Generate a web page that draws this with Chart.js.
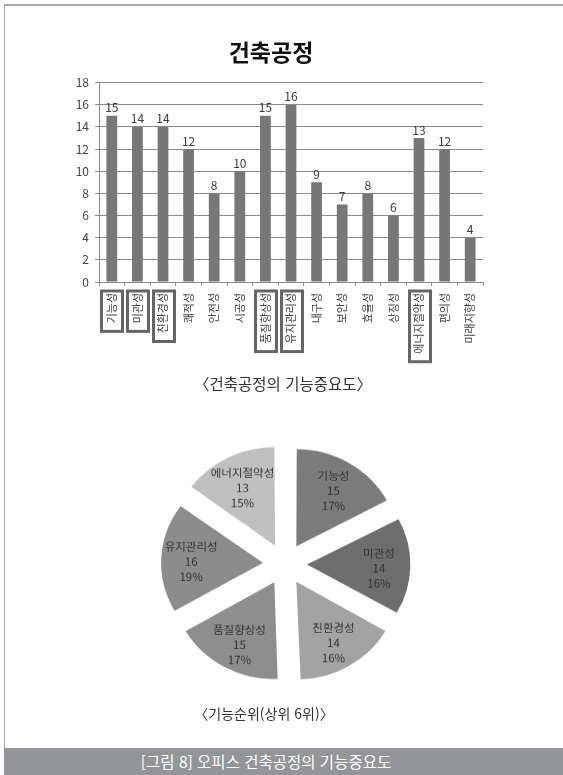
<!DOCTYPE html>
<html lang="ko">
<head>
<meta charset="utf-8">
<title>건축공정 기능중요도</title>
<script src="https://cdn.jsdelivr.net/npm/chart.js@4/dist/chart.umd.min.js"></script>
<style>
    html, body {
        margin: 0;
        padding: 0;
        width: 563px;
        height: 775px;
        overflow: hidden;
        background: #fff;
        font-family: 'Noto Sans CJK KR', 'Noto Sans', sans-serif;
    }
    .frame {
        position: absolute;
        left: 4px;
        top: 4px;
        width: 600px;
        height: 800px;
        border-top: 2px solid #a8a8a8;
        border-left: 1px solid #a8a8a8;
    }
    #barChart { position: absolute; left: 0; top: 0; }
    #pieChart {
        position: absolute;
        left: 135px;
        top: 414px;
        transform: scaleY(0.945);
        transform-origin: 50% 50%;
    }
    .caption {
        position: absolute;
        text-align: center;
        color: #333;
    }
    .figbar {
        position: absolute;
        left: 4px;
        top: 748px;
        width: 570px;
        height: 28px;
        background: #939598;
        color: #fff;
        font-size: 15.5px;
        line-height: 27px;
        text-align: center;
        padding-right: 46px;
        box-sizing: border-box;
    }
</style>
</head>
<body>
<div class="frame"></div>
<canvas id="barChart" width="563" height="380"></canvas>
<div class="caption" style="top:372px; left:0; width:566px; font-size:15.5px">〈건축공정의 기능중요도〉</div>
<canvas id="pieChart" width="300" height="300"></canvas>
<div class="caption" style="top:703px; left:0; width:528px; font-size:14px">〈기능순위(상위 6위)〉</div>
<div class="figbar">[그림 8] 오피스 건축공정의 기능중요도</div>

<script>
// ── data ──
const categories = ['기능성', '미관성', '친환경성', '쾌적성', '안전성', '시공성', '품질향상성', '유지관리성',
    '내구성', '보안성', '효율성', '상징성', '에너지절약성', '편의성', '미래지향성'];
const scores = [15, 14, 14, 12, 8, 10, 15, 16, 9, 7, 8, 6, 13, 12, 4];
const yTicks = [0, 2, 4, 6, 8, 10, 12, 14, 16, 18];

const topLabels = ['기능성', '미관성', '친환경성', '품질향상성', '유지관리성', '에너지절약성'];
const topScores = [15, 14, 14, 15, 16, 13];
const topPercents = [17, 16, 16, 17, 19, 15];

const FONT = "'Noto Sans CJK KR', 'Noto Sans', sans-serif";
const GRID = '#8a8a8a';
const TEXT = '#3a3a3a';

// values printed above each bar
const barValueLabels = {
    id: 'barValueLabels',
    afterDatasetsDraw(chart) {
        const ctx = chart.ctx;
        const meta = chart.getDatasetMeta(0);
        ctx.save();
        ctx.font = '12px ' + FONT;
        ctx.fillStyle = TEXT;
        ctx.textAlign = 'center';
        ctx.textBaseline = 'bottom';
        meta.data.forEach((bar, i) => {
            ctx.fillText(String(chart.data.datasets[0].data[i]), bar.x, bar.y - 2);
        });
        ctx.restore();
    }
};

// boxes round the tick labels of the six top-ranked functions
const boxedTicks = {
    id: 'boxedTicks',
    afterDraw(chart) {
        const ctx = chart.ctx;
        const xs = chart.scales.x;
        ctx.save();
        ctx.font = '11px ' + FONT;
        ctx.strokeStyle = '#666';
        ctx.lineWidth = 3;
        chart.data.labels.forEach((label, i) => {
            if (!topLabels.includes(label)) return;
            const cx = xs.getPixelForTick(i);
            const w = ctx.measureText(label).width;
            const top = xs.top + 9;
            ctx.strokeRect(Math.round(cx - 10.5) + 0.5, top, 21, w + 10);
        });
        ctx.restore();
    }
};

new Chart(document.getElementById('barChart'), {
    type: 'bar',
    data: {
        labels: categories,
        datasets: [{
            data: scores,
            backgroundColor: '#777777',
            categoryPercentage: 0.42,
            barPercentage: 1,
        }]
    },
    options: {
        responsive: false,
        animation: false,
        layout: { padding: { left: 59, right: 80, top: 0, bottom: 6 } },
        plugins: {
            legend: { display: false },
            tooltip: { enabled: false },
            title: {
                display: true,
                text: '건축공정',
                color: '#111',
                font: { size: 23, weight: 'bold', family: FONT },
                padding: { top: 38, bottom: 17 },
            },
        },
        scales: {
            x: {
                afterFit(scale) { scale.height = 92; },
                grid: {
                    drawOnChartArea: false,
                    drawTicks: true,
                    tickLength: 4,
                    color: GRID,
                },
                border: { color: GRID },
                ticks: {
                    minRotation: 90,
                    maxRotation: 90,
                    autoSkip: false,
                    padding: 7,
                    color: '#444',
                    font: { size: 11, family: FONT },
                }
            },
            y: {
                min: 0,
                max: 18,
                afterFit(scale) { scale.width = 40; },
                afterBuildTicks(scale) { scale.ticks = yTicks.map(v => ({ value: v })); },
                grid: { color: GRID, tickLength: 4 },
                border: { color: GRID },
                ticks: {
                    padding: 6,
                    color: '#444',
                    font: { size: 12, family: FONT },
                }
            }
        }
    },
    plugins: [barValueLabels, boxedTicks]
});

// name / count / percent written inside each slice
const sliceLabels = {
    id: 'sliceLabels',
    afterDatasetsDraw(chart) {
        const ctx = chart.ctx;
        const meta = chart.getDatasetMeta(0);
        ctx.save();
        ctx.font = '11.5px ' + FONT;
        ctx.fillStyle = '#333';
        ctx.textAlign = 'center';
        ctx.textBaseline = 'middle';
        meta.data.forEach((arc, i) => {
            const mid = (arc.startAngle + arc.endAngle) / 2;
            const r = arc.outerRadius * 0.72 + 22;
            const x = arc.x + Math.cos(mid) * r;
            const y = arc.y + Math.sin(mid) * r + 3;
            const lines = [topLabels[i], String(topScores[i]), topPercents[i] + '%'];
            lines.forEach((t, k) => ctx.fillText(t, x, y + (k - 1) * 16));
        });
        ctx.restore();
    }
};

new Chart(document.getElementById('pieChart'), {
    type: 'pie',
    data: {
        labels: topLabels,
        datasets: [{
            data: topScores,
            backgroundColor: ['#7b7b7b', '#6e6e6e', '#a3a3a3', '#8e8e8e', '#8c8c8c', '#c0c0c0'],
            borderWidth: 0,
            offset: 88,
        }]
    },
    options: {
        responsive: false,
        animation: false,
        radius: 100,
        plugins: {
            legend: { display: false },
            tooltip: { enabled: false },
        }
    },
    plugins: [sliceLabels]
});
</script>
</body>
</html>
